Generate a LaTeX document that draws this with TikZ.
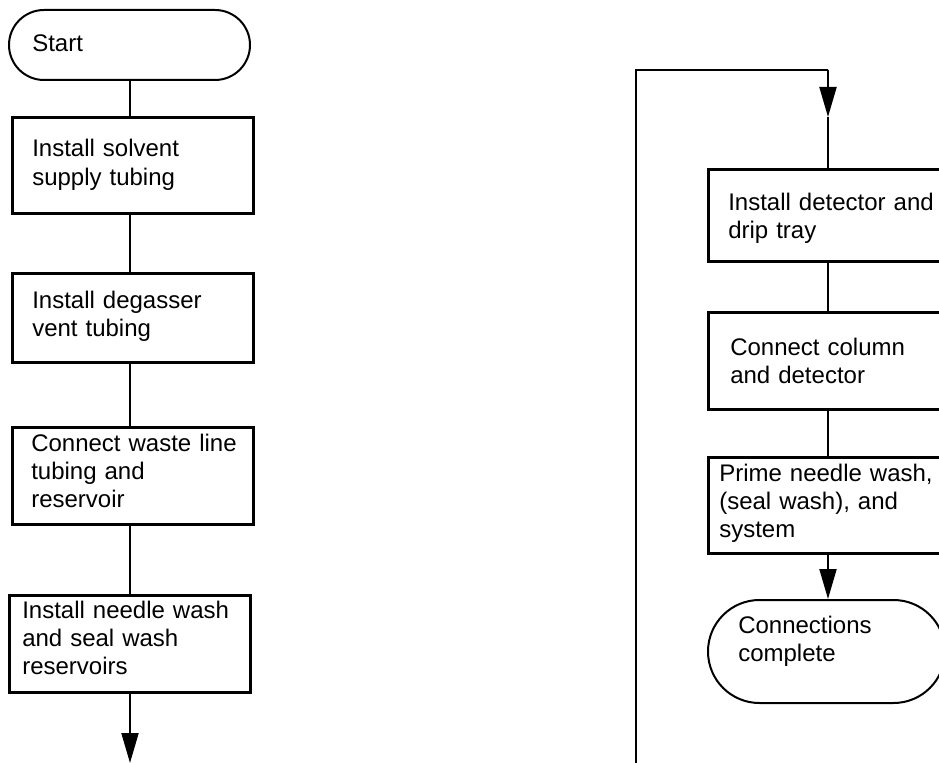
\documentclass[tikz,border=0pt]{standalone}
\usepackage{fontspec}
\setmainfont{Liberation Sans}
\usetikzlibrary{arrows.meta}
\begin{document}
\begin{tikzpicture}[x=0.75pt,y=-0.75pt,
  stepbox/.style={draw,line width=2.25pt,minimum width=180.75pt,inner sep=0pt},
  termbox/.style={draw,line width=1.5pt,inner sep=0pt},
  lbl/.style={anchor=base west,inner sep=0pt,align=left,text width=175pt,
    font=\fontsize{18pt}{21pt}\selectfont},
  conn/.style={line width=1.5pt},
  arr/.style={line width=1.5pt,-{Triangle[length=22.5pt,width=12.75pt]}}]
\clip (0,0) rectangle (939,763);
\fill[white] (0,0) rectangle (939,763);
% left column
\node[termbox,rounded corners=26.25pt,minimum width=180.75pt,minimum height=52.5pt] (start) at (129.5,45) {};
\node[lbl] (tstart) at (32,52) {Start};
\node[stepbox,minimum height=72pt] (b1) at (132.5,166) {};
\node[lbl] (t1) at (32,157) {Install solvent\\supply tubing};
\node[stepbox,minimum height=66.75pt] (b2) at (132.5,317.5) {};
\node[lbl] (t2) at (32,308) {Install degasser\\vent tubing};
\node[stepbox,minimum height=72.75pt] (b3) at (132.5,475.5) {};
\node[lbl] (t3) at (31,451) {Connect waste line\\tubing and\\reservoir};
\node[stepbox,minimum height=72.75pt] (b4) at (129.5,643.5) {};
\node[lbl] (t4) at (22,618) {Install needle wash\\and seal wash\\reservoirs};
\coordinate (lend) at (130,763);
\draw[conn] (130,80) -- (130,118);
\draw[conn] (130,214) -- (130,273);
\draw[conn] (130,362) -- (130,427);
\draw[conn] (130,524) -- (130,595);
\draw[arr] (130,692) -- (lend);
% right column
\node[stepbox,minimum width=181.5pt,minimum height=68.25pt] (b5) at (829,215.5) {};
\node[lbl] (t5) at (728,210) {Install detector and\\drip tray};
\node[stepbox,minimum width=181.5pt,minimum height=72.75pt] (b6) at (829,360.5) {};
\node[lbl] (t6) at (730,355) {Connect column\\and detector};
\node[stepbox,minimum width=181.5pt,minimum height=72pt] (b7) at (829,505) {};
\node[lbl] (t7) at (719,481) {Prime needle wash,\\(seal wash), and\\system};
\node[termbox,rounded corners=38.6pt,minimum width=177.75pt,minimum height=77.25pt] (end) at (826.5,651.5) {};
\node[lbl] (tend) at (738,633) {Connections\\complete};
\coordinate (rbot) at (636,780);
\coordinate (rtop) at (636,70);
\coordinate (rcorner) at (828,70);
\coordinate (rtip) at (828,117);
\draw[conn] (rbot) -- (rtop) -- (rcorner);
\draw[arr] (rcorner) -- (rtip);
\draw[conn] (rtip) -- (828,170);
\draw[conn] (828,261) -- (828,312);
\draw[conn] (828,409) -- (828,457);
\draw[arr] (828,553) -- (828,599);
\end{tikzpicture}
\end{document}
